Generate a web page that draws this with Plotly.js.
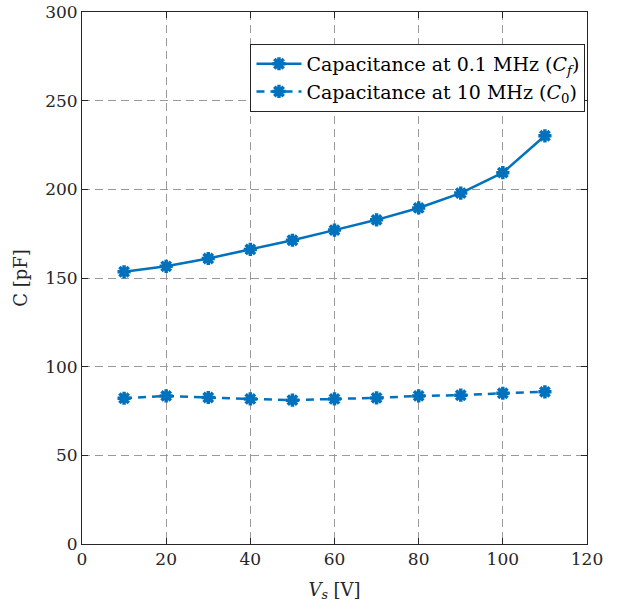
<!DOCTYPE html>
<html><head><meta charset="utf-8">
<script src="https://cdn.plot.ly/plotly-3.0.1.min.js"></script>
<style>html,body{margin:0;padding:0;background:#fff}</style>
</head><body>
<div id="chart" style="width:618px;height:609px"></div>
<script>
const voltage = [10, 20, 30, 40, 50, 60, 70, 80, 90, 100, 110];
const capF = [153.5, 156.6, 161.0, 166.1, 171.3, 177.0, 182.8, 189.5, 197.9, 209.4, 230.2];
const cap0 = [82.2, 83.5, 82.6, 81.8, 81.1, 81.8, 82.4, 83.5, 83.9, 85.0, 85.8];
const xTicks = [0, 20, 40, 60, 80, 100, 120];
const yTicks = [0, 50, 100, 150, 200, 250, 300];

const blue = '#0072BD';
const fnt = '"DejaVu Serif", "Liberation Serif", serif';
const mk = {symbol: 'asterisk-open', size: 11, color: blue, line: {color: blue, width: 3.5}};

const traces = [
  {x: voltage, y: capF, mode: 'lines+markers', name: 'Capacitance at 0.1 MHz (<i>C<sub>f</sub></i>)',
   line: {color: blue, width: 2.5}, marker: mk},
  {x: voltage, y: cap0, mode: 'lines+markers', name: 'Capacitance at 10 MHz (<i>C</i><sub>0</sub>)',
   line: {color: blue, width: 2.5, dash: '8px,6px'}, marker: mk}
];

const axBase = {
  showline: true, linecolor: '#262626', linewidth: 1, mirror: 'ticks',
  ticks: 'inside', ticklen: 6, tickcolor: '#262626',
  showgrid: true, gridcolor: '#9a9a9a', griddash: '8px,5px', gridwidth: 1,
  zeroline: false, tickfont: {family: fnt, size: 17, color: '#262626'}
};

const layout = {
  width: 618, height: 609,
  margin: {l: 82, r: 31, t: 12, b: 65},
  paper_bgcolor: '#fff', plot_bgcolor: '#fff',
  showlegend: true,
  legend: {x: 0.997, y: 0.94, xanchor: 'right', yanchor: 'top',
           bordercolor: '#262626', borderwidth: 1, bgcolor: '#fff', itemwidth: 45,
           font: {family: fnt, size: 19, color: '#000'}, tracegroupgap: 0},
  xaxis: Object.assign({}, axBase, {range: [0, 120], tickvals: xTicks,
    title: {text: '<i>V<sub>s</sub></i> [V]', font: {family: fnt, size: 18, color: '#262626'}, standoff: 14}}),
  yaxis: Object.assign({}, axBase, {range: [0, 300], tickvals: yTicks,
    title: {text: 'C [pF]', font: {family: fnt, size: 18, color: '#262626'}, standoff: 12}})
};

Plotly.newPlot('chart', traces, layout, {displayModeBar: false, staticPlot: true});
</script>
</body></html>
